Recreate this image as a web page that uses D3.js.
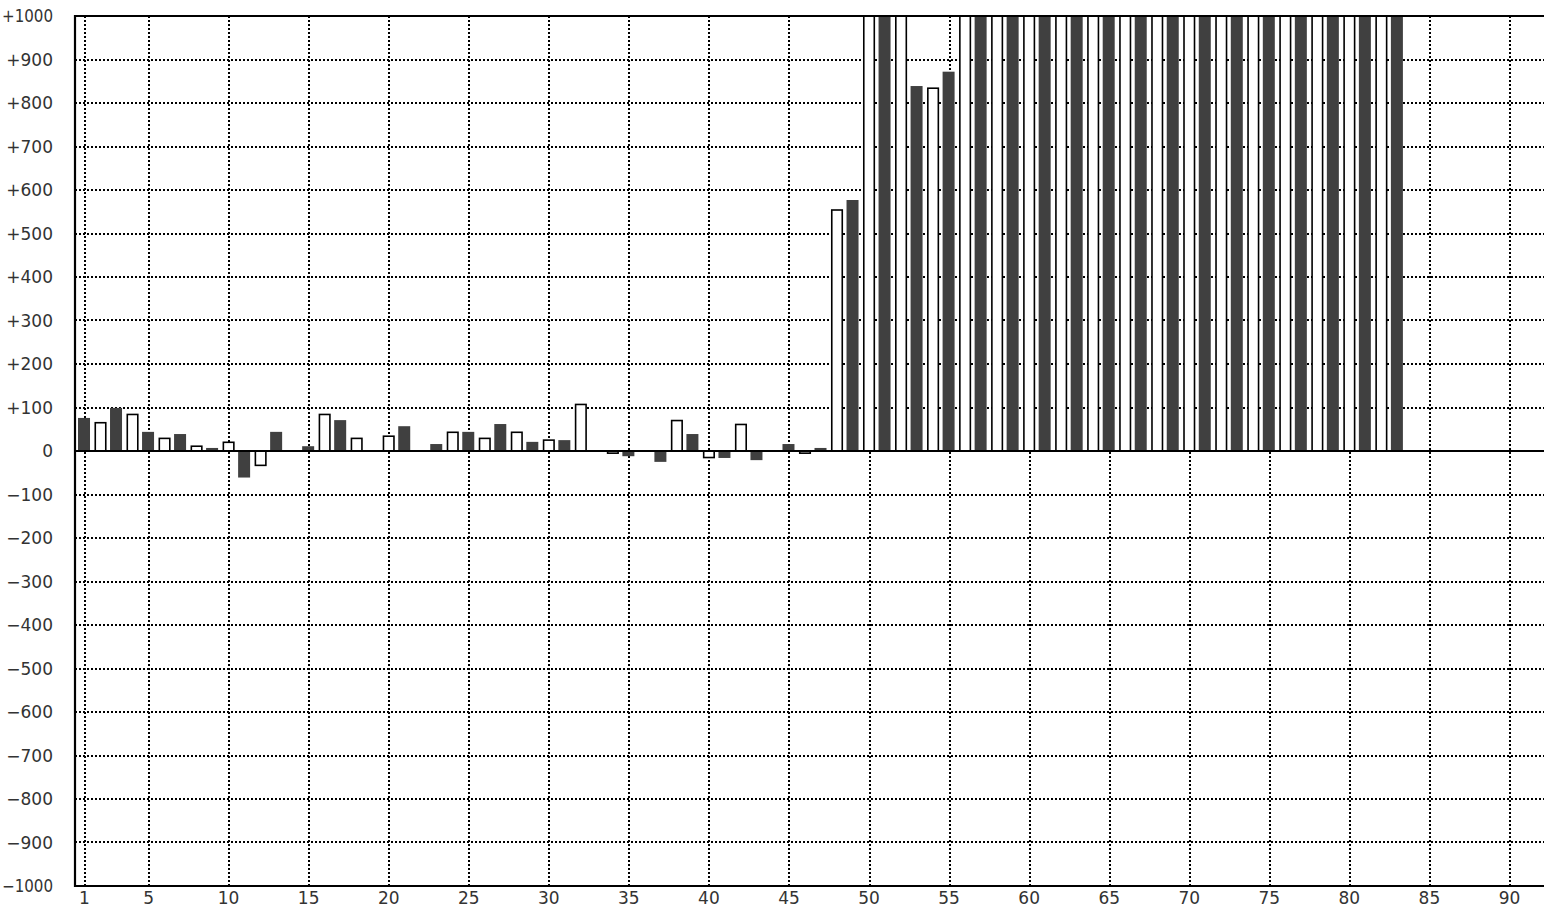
<!DOCTYPE html>
<html>
<head>
<meta charset="utf-8">
<script src="https://cdn.jsdelivr.net/npm/d3@7"></script>
<style>
  html, body { margin: 0; padding: 0; background: #fff; overflow: hidden; }
  svg { display: block; }
</style>
</head>
<body>
<svg id="chart" width="1544" height="908"></svg>
<script>
// ---- data ----
const categories = [1,2,3,4,5,6,7,8,9,10,11,12,13,14,15,16,17,18,19,20,21,22,23,24,25,26,27,28,29,30,
  31,32,33,34,35,36,37,38,39,40,41,42,43,44,45,46,47,48,49,50,51,52,53,54,55,56,57,58,59,60,
  61,62,63,64,65,66,67,68,69,70,71,72,73,74,75,76,77,78,79,80,81,82,83];
const values = [76,65,99,84,44,29,39,11,7,20,-61,-33,44,null,11,84,71,29,null,34,57,null,16,43,44,29,62,43,21,25,
  25,107,null,-5,-12,null,-25,70,39,-15,-16,61,-21,null,16,-5,7,554,577,1000,1000,1000,839,834,872,1000,1000,1000,1000,1000,
  1000,1000,1000,1000,1000,1000,1000,1000,1000,1000,1000,1000,1000,1000,1000,1000,1000,1000,1000,1000,1000,1000,1000];
// odd categories are drawn filled dark, even ones as outlined white bars
const seriesStyle = ["dark", "white"];
const xTickValues = [1,5,10,15,20,25,30,35,40,45,50,55,60,65,70,75,80,85,90];
const yTickValues = [-1000,-900,-800,-700,-600,-500,-400,-300,-200,-100,0,100,200,300,400,500,600,700,800,900,1000];
const yTickLabels = ["−1000","−900","−800","−700","−600","−500","−400","−300","−200","−100","0",
  "+100","+200","+300","+400","+500","+600","+700","+800","+900","+1000"];

// ---- layout ----
const svg = d3.select("#chart");
const pLeft = 75, pRight = 1546, pTop = 16, pBottom = 886;
const x = d3.scaleLinear().domain([0.4375, 92.3125]).range([pLeft, pRight]);
const y = d3.scaleLinear().domain([-1000, 1000]).range([pBottom, pTop]);
const barW = 12;
const dark = "#404040";
const fontFam = "'DejaVu Sans', Verdana, sans-serif";

svg.append("defs").append("clipPath").attr("id", "plotclip")
  .append("rect").attr("x", pLeft).attr("y", pTop).attr("width", pRight - pLeft).attr("height", pBottom - pTop);

// gridlines
const grid = svg.append("g").attr("stroke", "#000").attr("stroke-width", 2).attr("stroke-dasharray", "2,2");
grid.selectAll("line.v").data(xTickValues).join("line").attr("class", "v")
  .attr("x1", d => Math.round(x(d)) + 1).attr("x2", d => Math.round(x(d)) + 1)
  .attr("y1", pTop).attr("y2", pBottom);
grid.selectAll("line.h").data(yTickValues.filter(v => v !== 0 && Math.abs(v) !== 1000)).join("line").attr("class", "h")
  .attr("x1", pLeft).attr("x2", pRight)
  .attr("y1", d => Math.round(y(d))).attr("y2", d => Math.round(y(d)));

// bars
const data = categories.map((c, i) => ({ c, v: values[i], s: seriesStyle[(c + 1) % 2] }))
  .filter(d => d.v !== null);
const bars = svg.append("g").attr("clip-path", "url(#plotclip)");
bars.selectAll("rect.dark").data(data.filter(d => d.s === "dark")).join("rect").attr("class", "dark")
  .attr("x", d => x(d.c) - barW / 2)
  .attr("width", barW)
  .attr("y", d => Math.min(y(d.v), y(0)))
  .attr("height", d => Math.abs(y(d.v) - y(0)))
  .attr("fill", dark);
bars.selectAll("rect.white").data(data.filter(d => d.s === "white")).join("rect").attr("class", "white")
  .attr("x", d => x(d.c) - barW / 2 + 1.25)
  .attr("width", barW - 1.5)
  .attr("y", d => Math.min(y(d.v), y(0)))
  .attr("height", d => Math.max(1, Math.abs(y(d.v) - y(0))))
  .attr("fill", "#fff").attr("stroke", "#000").attr("stroke-width", 1.6);

// zero line
svg.append("line").attr("x1", pLeft).attr("x2", pRight).attr("y1", y(0)).attr("y2", y(0))
  .attr("stroke", "#000").attr("stroke-width", 2.2);

// frame: left axis, top and bottom borders
svg.append("path")
  .attr("d", `M${pRight},${pTop}H${pLeft}V${pBottom}H${pRight}`)
  .attr("fill", "none").attr("stroke", "#000").attr("stroke-width", 2.2);

// y labels
svg.append("g").selectAll("text").data(yTickValues).join("text")
  .attr("x", 53).attr("y", d => y(d))
  .attr("dy", "0.36em")
  .attr("text-anchor", "end")
  .attr("font-family", fontFam).attr("font-size", 17).attr("fill", "#333")
  .each(function (d) {
    if (Math.abs(d) === 1000) {
      d3.select(this).attr("textLength", 51).attr("lengthAdjust", "spacingAndGlyphs");
    }
  })
  .text((d, i) => yTickLabels[i]);

// x labels
svg.append("g").selectAll("text").data(xTickValues).join("text")
  .attr("x", d => x(d) + 0.5).attr("y", 904)
  .attr("text-anchor", "middle")
  .attr("font-family", fontFam).attr("font-size", 17).attr("fill", "#333")
  .text(d => d);
</script>
</body>
</html>
